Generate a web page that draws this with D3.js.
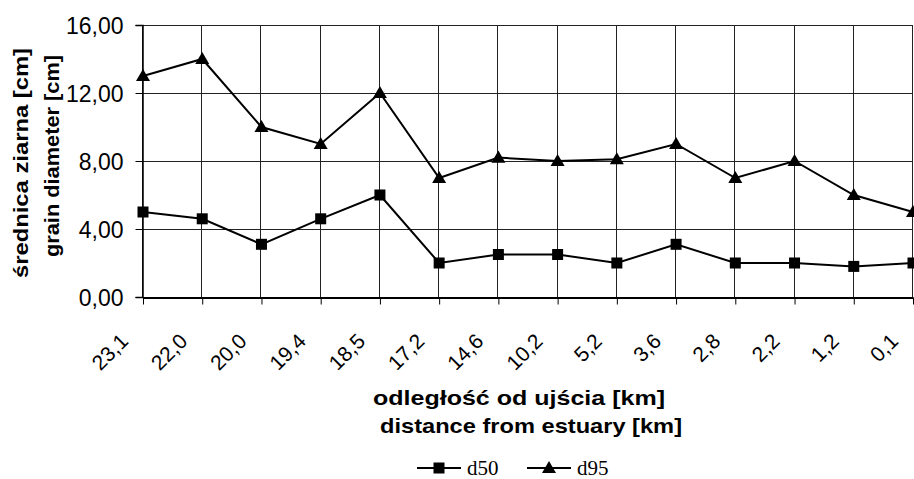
<!DOCTYPE html>
<html>
<head>
<meta charset="utf-8">
<script src="https://cdn.jsdelivr.net/npm/d3@7"></script>
<style>
  body { margin: 0; background: #fff; }
  svg { display: block; font-family: "Liberation Sans", Arial, sans-serif; }
</style>
</head>
<body>
<div id="chart"></div>
<script>
// distance from estuary [km]
const distances = ['23,1', '22,0', '20,0', '19,4', '18,5', '17,2', '14,6', '10,2', '5,2', '3,6', '2,8', '2,2', '1,2', '0,1'];
const d50 = [5.0, 4.6, 3.1, 4.6, 6.0, 2.0, 2.5, 2.5, 2.0, 3.1, 2.0, 2.0, 1.8, 2.0];
const d95 = [13.0, 14.0, 10.0, 9.0, 12.0, 7.0, 8.2, 8.0, 8.1, 9.0, 7.0, 8.0, 6.0, 5.0];
const yTicks = [0, 4, 8, 12, 16];

const width = 914, height = 479;
const margin = { top: 25, right: 1, bottom: 182, left: 143 };

const svg = d3.select('#chart')
    .append('svg')
    .attr('width', width)
    .attr('height', height);

const x = d3.scalePoint()
    .domain(distances)
    .range([margin.left, width - margin.right])
    .padding(0);

const y = d3.scaleLinear()
    .domain([0, 16])
    .range([height - margin.bottom, margin.top]);

const fmt = d3.formatLocale({ decimal: ',', thousands: ' ', grouping: [3], currency: ['', ''] }).format('.2f');

// Grid
const grid = svg.append('g').attr('stroke', '#222').attr('stroke-width', 1);
grid.selectAll('line.h')
    .data(yTicks)
    .enter()
    .append('line')
    .attr('x1', margin.left)
    .attr('x2', width - margin.right)
    .attr('y1', d => Math.round(y(d)) + 0.5)
    .attr('y2', d => Math.round(y(d)) + 0.5);
grid.selectAll('line.v')
    .data(distances)
    .enter()
    .append('line')
    .attr('x1', d => Math.round(x(d)) - 0.5)
    .attr('x2', d => Math.round(x(d)) - 0.5)
    .attr('y1', margin.top)
    .attr('y2', height - margin.bottom);

// Axes
const yAxis = svg.append('g')
    .attr('transform', `translate(${margin.left - 0.5},0)`)
    .call(d3.axisLeft(y).tickValues(yTicks).tickSize(7).tickFormat(fmt));
yAxis.select('.domain').attr('stroke', '#000').attr('stroke-width', 1.5);
yAxis.selectAll('.tick line').attr('stroke', '#000');
yAxis.selectAll('.tick text')
    .attr('font-family', '"Liberation Sans", Arial, sans-serif')
    .attr('font-size', 23)
    .attr('fill', '#000')
    .attr('x', -19)
    .attr('dy', '0.36em');

const xAxis = svg.append('g')
    .attr('transform', `translate(0,${height - margin.bottom + 0.5})`)
    .call(d3.axisBottom(x).tickSize(7).tickSizeOuter(0));
xAxis.select('.domain').attr('stroke', '#000').attr('stroke-width', 2);
xAxis.selectAll('.tick line').attr('stroke', '#000');
xAxis.selectAll('.tick text')
    .attr('font-family', '"Liberation Sans", Arial, sans-serif')
    .attr('font-size', 21)
    .attr('fill', '#000')
    .attr('text-anchor', 'end')
    .attr('y', 0)
    .attr('dy', 0)
    .attr('transform', 'translate(-14,45) rotate(-45)');

// Series lines
const line = d3.line()
    .x((d, i) => x(distances[i]))
    .y(d => y(d));

[d50, d95].forEach(series => {
    svg.append('path')
        .datum(series)
        .attr('fill', 'none')
        .attr('stroke', '#000')
        .attr('stroke-width', 2)
        .attr('d', line);
});

// Markers
svg.append('g')
    .selectAll('rect')
    .data(d50)
    .enter()
    .append('rect')
    .attr('x', (d, i) => x(distances[i]) - 5.5)
    .attr('y', d => y(d) - 5.5)
    .attr('width', 11)
    .attr('height', 11)
    .attr('fill', '#000');

const tri = d3.symbol().type(d3.symbolTriangle).size(85);
svg.append('g')
    .selectAll('path')
    .data(d95)
    .enter()
    .append('path')
    .attr('d', tri)
    .attr('transform', (d, i) => `translate(${x(distances[i])},${y(d) + 1})`)
    .attr('fill', '#000');

// Axis titles
const yTitle = svg.append('g')
    .attr('font-weight', 'bold')
    .attr('font-size', 21)
    .attr('text-anchor', 'middle');
yTitle.append('text')
    .attr('transform', 'translate(28,163) rotate(-90)')
    .attr('textLength', 230)
    .attr('lengthAdjust', 'spacingAndGlyphs')
    .text('średnica ziarna [cm]');
yTitle.append('text')
    .attr('transform', 'translate(59,156) rotate(-90)')
    .attr('textLength', 202)
    .attr('lengthAdjust', 'spacingAndGlyphs')
    .text('grain diameter [cm]');

const xTitle = svg.append('g')
    .attr('font-weight', 'bold')
    .attr('font-size', 21)
    .attr('text-anchor', 'middle');
xTitle.append('text')
    .attr('x', 519)
    .attr('y', 405)
    .attr('textLength', 292)
    .attr('lengthAdjust', 'spacingAndGlyphs')
    .text('odległość od ujścia [km]');
xTitle.append('text')
    .attr('x', 531)
    .attr('y', 433)
    .attr('textLength', 302)
    .attr('lengthAdjust', 'spacingAndGlyphs')
    .text('distance from estuary [km]');

// Legend
const legend = svg.append('g')
    .attr('font-family', '"Liberation Serif", "Times New Roman", serif')
    .attr('font-size', 21);
const legendItems = [
    { label: 'd50', x0: 417, shape: 'square' },
    { label: 'd95', x0: 527, shape: 'triangle' }
];
const ly = 468;
legendItems.forEach(item => {
    legend.append('line')
        .attr('x1', item.x0)
        .attr('x2', item.x0 + 44)
        .attr('y1', ly)
        .attr('y2', ly)
        .attr('stroke', '#000')
        .attr('stroke-width', 2);
    if (item.shape === 'square') {
        legend.append('rect')
            .attr('x', item.x0 + 22 - 5.5)
            .attr('y', ly - 5.5)
            .attr('width', 11)
            .attr('height', 11);
    } else {
        legend.append('path')
            .attr('d', tri)
            .attr('transform', `translate(${item.x0 + 22},${ly + 1})`);
    }
    legend.append('text')
        .attr('x', item.x0 + 50)
        .attr('y', ly + 7)
        .text(item.label);
});
</script>
</body>
</html>
